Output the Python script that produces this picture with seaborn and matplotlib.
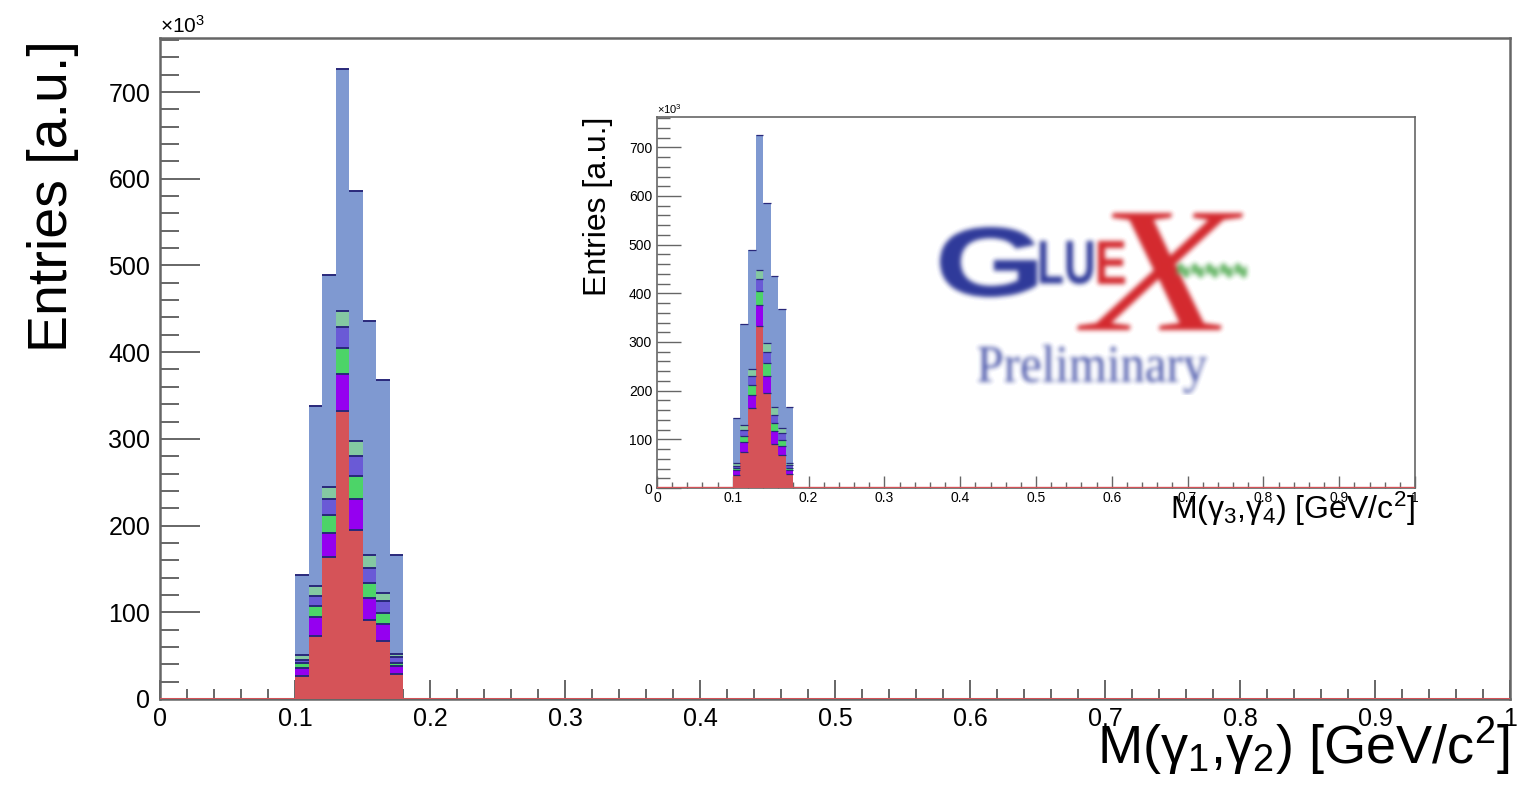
import numpy as np
import pandas as pd
import matplotlib
matplotlib.use("Agg")
import matplotlib.pyplot as plt
import seaborn as sns
from matplotlib.ticker import MultipleLocator, FuncFormatter
from matplotlib.figure import Figure
from matplotlib.backends.backend_agg import FigureCanvasAgg
from matplotlib.textpath import TextPath
from matplotlib.font_manager import FontProperties
from matplotlib.patches import PathPatch
from matplotlib.transforms import Affine2D

# ---- data: stacked diphoton mass components (entries in units of 10^3) ----
bin_edges = [0.10, 0.11, 0.12, 0.13, 0.14, 0.15, 0.16, 0.17, 0.18]
bin_centers = [0.105, 0.115, 0.125, 0.135, 0.145, 0.155, 0.165, 0.175]

comp_red = [27, 73, 164, 332, 195, 91, 67, 29]
comp_violet = [9, 21, 28, 43, 36, 26, 19.5, 8.5]
comp_green = [5, 13, 20.5, 30, 26, 17, 13, 4.5]
comp_slate = [4.5, 12, 18.5, 24, 23, 17, 13.5, 6]
comp_teal = [5, 11, 14, 19, 18, 15, 9.6, 4]
comp_blue = [93, 207.5, 244, 278, 287.6, 270, 245.4, 114]

components = ["red", "violet", "green", "slate", "teal", "blue"]   # bottom -> top
values = [comp_red, comp_violet, comp_green, comp_slate, comp_teal, comp_blue]
colors = {"red": "#d55358", "violet": "#9500f0", "green": "#4cd468",
          "slate": "#6a5ad6", "teal": "#84c8a2", "blue": "#7f99d1"}

x_ticks_major = 0.1
y_ticks_major = 100

df = pd.DataFrame([
    {"mass": c, "count": v, "comp": name}
    for name, vals in zip(components, values)
    for c, v in zip(bin_centers, vals)
])

# ---- style ----
sns.set_theme(style="white")
plt.rcParams["font.family"] = ["Liberation Sans", "DejaVu Sans"]
plt.rcParams["text.color"] = "black"
plt.rcParams["axes.labelcolor"] = "black"
plt.rcParams["mathtext.fontset"] = "custom"
plt.rcParams["mathtext.rm"] = "Liberation Sans"
plt.rcParams["mathtext.it"] = "Liberation Sans:italic"
plt.rcParams["mathtext.bf"] = "Liberation Sans:bold"

W, H = 1522, 789
fig = plt.figure(figsize=(W / 100, H / 100), dpi=100)
fig.patch.set_facecolor("white")

frame_col = "#666666"
edge_col = "#29287a"
ymax = 1.05 * max(np.sum(values, axis=0))

def draw_stack(ax, top_lw):
    sns.histplot(data=df, x="mass", weights="count", hue="comp",
                 hue_order=components[::-1], palette=colors,
                 multiple="stack", bins=bin_edges, element="bars",
                 alpha=1, linewidth=0, legend=False, ax=ax, zorder=2)
    cum = np.cumsum(values, axis=0)
    for level in cum:
        ax.hlines(level, bin_edges[:-1], bin_edges[1:], colors=edge_col,
                  lw=top_lw, zorder=3)
    ax.axhline(0, color=colors["red"], lw=top_lw + 0.8, zorder=4)
    ax.set_xlim(0, 1)
    ax.set_ylim(0, ymax)
    ax.set_xlabel("")
    ax.set_ylabel("")
    ax.xaxis.set_major_locator(MultipleLocator(x_ticks_major))
    ax.xaxis.set_minor_locator(MultipleLocator(x_ticks_major / 5))
    ax.yaxis.set_major_locator(MultipleLocator(y_ticks_major))
    ax.yaxis.set_minor_locator(MultipleLocator(y_ticks_major / 5))
    ax.xaxis.set_major_formatter(FuncFormatter(lambda v, p: f"{v:g}"))
    ax.yaxis.set_major_formatter(FuncFormatter(lambda v, p: f"{v:g}"))
    for s in ax.spines.values():
        s.set_color(frame_col)
    ax.set_facecolor("white")

def px_axes(x0, y0, x1, y1):
    return fig.add_axes([x0 / W, 1 - y1 / H, (x1 - x0) / W, (y1 - y0) / H])

# ---- main histogram ----
ax = px_axes(160, 38, 1510, 699)
draw_stack(ax, 1.4)
for s in ax.spines.values():
    s.set_linewidth(1.8)
ax.tick_params(axis="both", which="both", direction="in", colors=frame_col,
               labelcolor="black", width=1.4, top=False, right=False,
               bottom=True, left=True)
ax.tick_params(axis="y", which="major", length=29, pad=7, labelsize=18)
ax.tick_params(axis="y", which="minor", length=14)
ax.tick_params(axis="x", which="major", length=14, pad=6, labelsize=18)
ax.tick_params(axis="x", which="minor", length=7)

fig.text(160 / W, 1 - 37 / H, r"×10$^{3}$", ha="left", va="bottom", fontsize=15)
fig.text(53 / W, 1 - 40 / H, "Entries [a.u.]", rotation=90, ha="center",
         va="top", fontsize=40)
fig.text(1510 / W, 1 - 764 / H, r"M(γ$_{1}$,γ$_{2}$) [GeV/c$^{2}$]",
         ha="right", va="baseline", fontsize=39)

# ---- inset histogram ----
ins = px_axes(657, 117, 1415, 488)
draw_stack(ins, 0.9)
for s in ins.spines.values():
    s.set_linewidth(1.2)
ins.tick_params(axis="both", which="both", direction="in", colors=frame_col,
                labelcolor="black", width=1.0, top=False, right=False,
                bottom=True, left=True)
ins.tick_params(axis="y", which="major", length=17, pad=3.5, labelsize=10)
ins.tick_params(axis="y", which="minor", length=9)
ins.tick_params(axis="x", which="major", length=9, pad=2.5, labelsize=10)
ins.tick_params(axis="x", which="minor", length=4.5)

fig.text(657 / W, 1 - 116 / H, r"×10$^{3}$", ha="left", va="bottom", fontsize=8)
fig.text(598 / W, 1 - 117 / H, "Entries [a.u.]", rotation=90, ha="center",
         va="top", fontsize=23)
fig.text(1415 / W, 1 - 519 / H, r"M(γ$_{3}$,γ$_{4}$) [GeV/c$^{2}$]",
         ha="right", va="baseline", fontsize=23)

# ---- GlueX Preliminary logo (rendered offscreen, then softened) ----
LW, LH = 320, 190
lfig = Figure(figsize=(LW / 100, LH / 100), dpi=100, facecolor="white")
lcanvas = FigureCanvasAgg(lfig)
lax = lfig.add_axes([0, 0, 1, 1])
lax.set_xlim(0, LW)
lax.set_ylim(LH, 0)
lax.axis("off")

sans_b = FontProperties(family="Liberation Sans", weight="bold")
serif_i = FontProperties(family="Liberation Serif", style="italic")
serif = FontProperties(family="Liberation Serif")

def glyph(s, x0, y0, x1, y1, color, prop):
    path = TextPath((0, 0), s, size=10, prop=prop)
    bb = path.get_extents()
    tr = (Affine2D().translate(-bb.x0, -bb.y0)
          .scale((x1 - x0) / bb.width, -(y1 - y0) / bb.height)
          .translate(x0, y1))
    lax.add_patch(PathPatch(tr.transform_path(path), fc=color, lw=0))

glyph("G", 5, 22, 102, 92, "#2f3a9a", sans_b)
glyph("LU", 105, 36, 158, 79, "#2f3a9a", sans_b)
glyph("X", 142, 8, 308, 125, "#d42a2f", serif_i)
glyph("E", 163, 36, 190, 79, "#d42a2f", sans_b)
glyph("~~~~~", 242, 58, 312, 73, "#6cb86c", sans_b)
glyph("Preliminary", 43, 140, 272, 188, "#4a56aa", serif)

lcanvas.draw()
rgba = np.asarray(lcanvas.buffer_rgba()).astype(float) / 255.0
alpha = rgba[..., 3:4]
img = rgba[..., :3] * alpha + (1.0 - alpha)
# normalise the paper colour to pure white
bg = np.median(np.concatenate([img[0], img[-1]]), axis=0)
img = np.clip(img / np.maximum(bg, 1e-3), 0, 1)

k = np.exp(-0.5 * (np.arange(-7, 8) / 2.3) ** 2)
k /= k.sum()
pad = 7
img = np.pad(img, ((pad, pad), (pad, pad), (0, 0)), mode="constant",
             constant_values=1.0)
img = np.apply_along_axis(lambda r: np.convolve(r, k, mode="same"), 0, img)
img = np.apply_along_axis(lambda r: np.convolve(r, k, mode="same"), 1, img)
img = np.clip(img[pad:-pad, pad:-pad], 0, 1)
img[img > 0.985] = 1.0

logo_ax = px_axes(935, 205, 935 + LW, 205 + LH)
logo_ax.imshow(img, aspect="auto", interpolation="bilinear", vmin=0, vmax=1)
logo_ax.axis("off")

fig.savefig("out.png", dpi=100, facecolor="white")
